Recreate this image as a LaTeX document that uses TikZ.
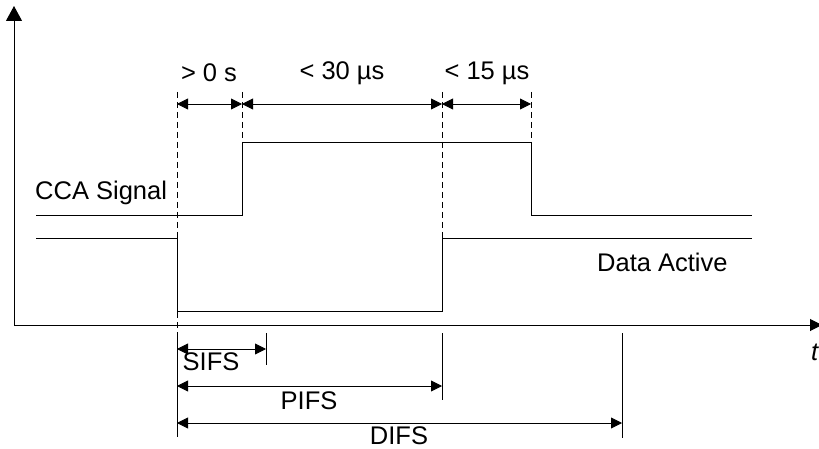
\documentclass[tikz,border=0pt]{standalone}
\usepackage{fontspec}
\setmainfont{Liberation Sans}
\usetikzlibrary{arrows.meta}
\begin{document}
\begin{tikzpicture}[x=1pt,y=-1pt,
  sig/.style={line width=0.9pt},
  dim/.style={line width=0.9pt,{Triangle[length=11pt,width=11pt]}-{Triangle[length=11pt,width=11pt]}},
  guide/.style={line width=0.6pt,dash pattern=on 6pt off 4pt},
  tick/.style={line width=0.8pt},
  lbl/.style={font=\fontsize{25.5}{28}\selectfont,inner sep=0pt}]
\useasboundingbox (0,0) rectangle (819,449);
% axes
\coordinate (O) at (14,325);
\coordinate (ytop) at (14,6);
\coordinate (xend) at (822,325);
\draw[line width=1pt,-{Triangle[length=15pt,width=16pt]}] (O) -- (ytop);
\draw[line width=1pt,-{Triangle[length=12pt,width=12pt]}] (O) -- (xend);
\node[lbl,font=\fontsize{25.5}{28}\selectfont\itshape,anchor=west] (t) at (811,352) {t};
% CCA signal
\coordinate (c0) at (36,215);
\coordinate (c1) at (242,215);
\coordinate (c2) at (242,142);
\coordinate (c3) at (531,142);
\coordinate (c4) at (531,215);
\coordinate (c5) at (752,215);
\draw[sig] (c0) -- (c1) -- (c2) -- (c3) -- (c4) -- (c5);
% Data active
\coordinate (d0) at (36,238);
\coordinate (d1) at (177,238);
\coordinate (d2) at (177,311);
\coordinate (d3) at (442,311);
\coordinate (d4) at (442,238);
\coordinate (d5) at (752,238);
\draw[sig] (d0) -- (d1) -- (d2) -- (d3) -- (d4) -- (d5);
\node[lbl,anchor=west] (cca) at (35,193) {CCA Signal};
\node[lbl,anchor=west] (da) at (597,262) {Data Active};
% dashed guides
\coordinate (g1t) at (177,92);
\coordinate (g1b) at (177,335);
\coordinate (g2t) at (242,92);
\coordinate (g3t) at (442,92);
\coordinate (g4t) at (531,92);
\draw[guide] (g1t) -- (g1b);
\draw[guide] (g2t) -- (c2);
\draw[guide] (g3t) -- (d4);
\draw[guide] (g4t) -- (c3);
% top dimensions
\coordinate (a1) at (177,104);
\coordinate (a2) at (242,104);
\coordinate (a3) at (442,104);
\coordinate (a4) at (531,104);
\draw[dim] (a1) -- (a2);
\draw[dim] (a2) -- (a3);
\draw[dim] (a3) -- (a4);
\node[lbl] (l1) at (209,73) {> 0 s};
\node[lbl] (l2) at (342,73) {< 30 µs};
\node[lbl] (l3) at (487,73) {< 15 µs};
% bottom ticks
\coordinate (b1t) at (177,333);
\coordinate (b1b) at (177,437);
\coordinate (b2t) at (266,333);
\coordinate (b2b) at (266,365);
\coordinate (b3t) at (442,333);
\coordinate (b3b) at (442,400);
\coordinate (b4t) at (622,333);
\coordinate (b4b) at (622,438);
\draw[tick] (b1t) -- (b1b);
\draw[tick] (b2t) -- (b2b);
\draw[tick] (b3t) -- (b3b);
\draw[tick] (b4t) -- (b4b);
% bottom dimensions
\coordinate (s1) at (177,349);
\coordinate (s2) at (266,349);
\coordinate (p1) at (177,386);
\coordinate (p2) at (442,386);
\coordinate (q1) at (177,423);
\coordinate (q2) at (622,423);
\draw[dim] (s1) -- (s2);
\draw[dim] (p1) -- (p2);
\draw[dim] (q1) -- (q2);
\node[lbl] (sifs) at (211,362) {SIFS};
\node[lbl] (pifs) at (309,401) {PIFS};
\node[lbl] (difs) at (399,436) {DIFS};
\end{tikzpicture}
\end{document}
